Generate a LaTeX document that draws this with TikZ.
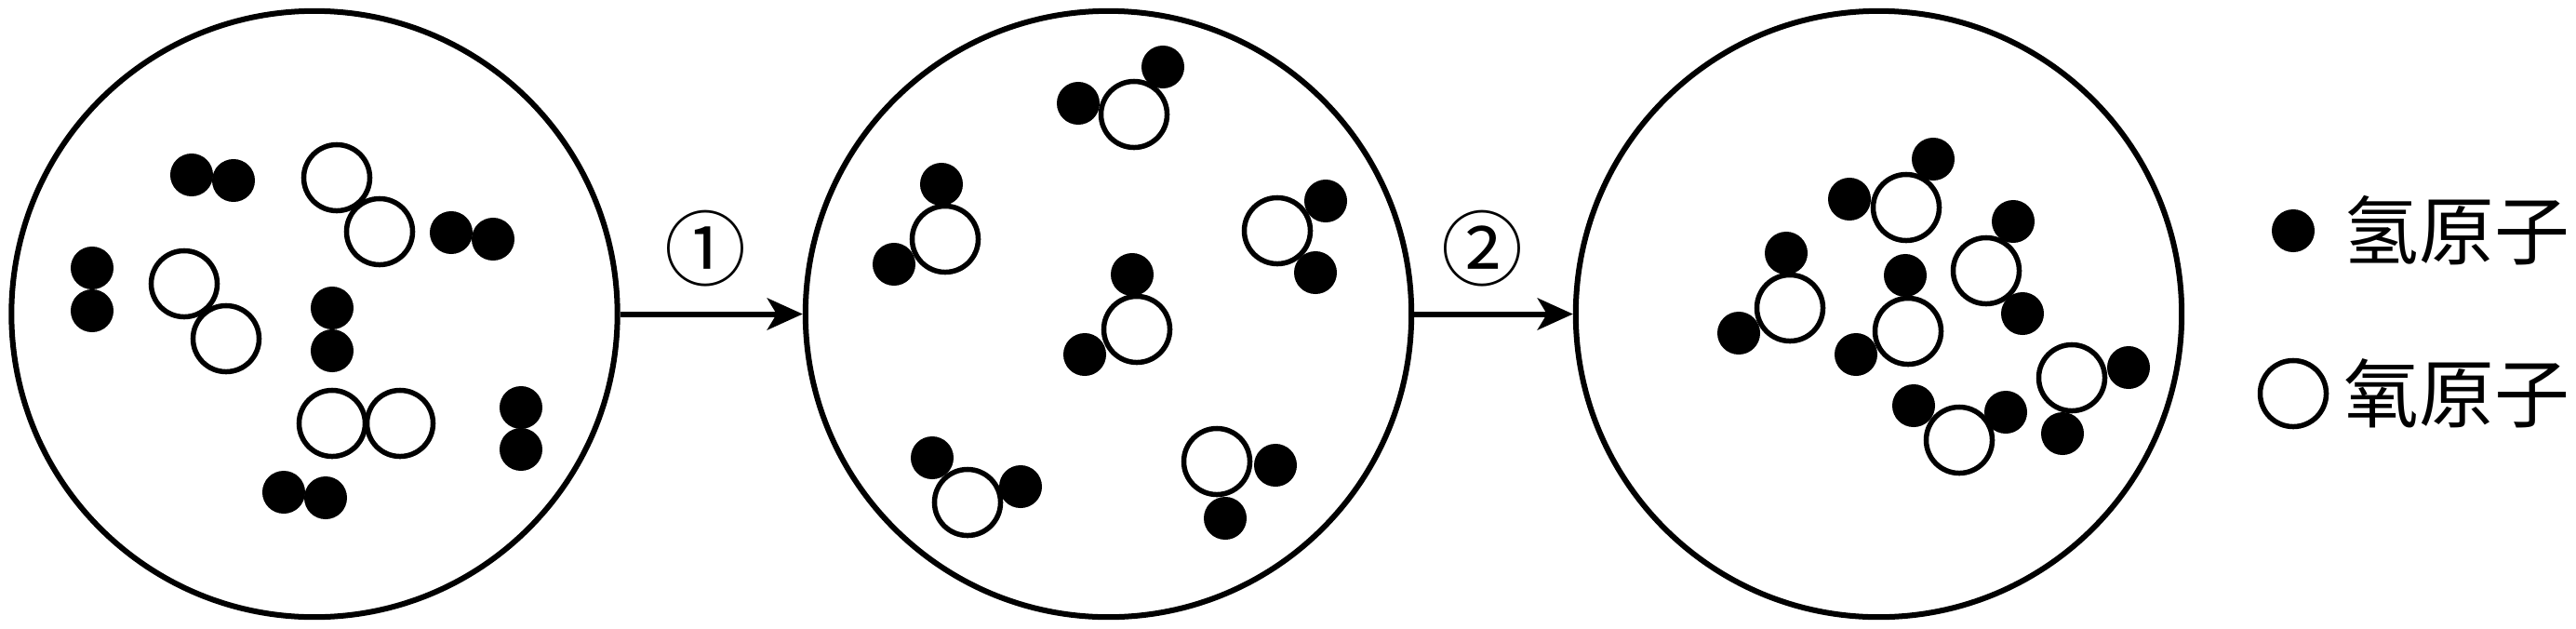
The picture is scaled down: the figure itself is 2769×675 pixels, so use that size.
\documentclass[tikz,border=0pt]{standalone}
\usepackage{fontspec}
\newfontfamily\cjk{Noto Sans CJK SC}
\usetikzlibrary{arrows.meta}
\tikzset{
  vessel/.style={draw,circle,line width=0.06cm,minimum size=6.51cm,inner sep=0pt},
  hatom/.style={fill=black,circle,minimum size=0.46cm,inner sep=0pt},
  oatom/.style={draw,fill=white,circle,line width=0.055cm,minimum size=0.71cm,inner sep=0pt},
  reaction/.style={line width=0.06cm,-{Stealth[length=0.38cm,width=0.34cm,inset=0.1cm]}},
  stepmark/.style={font=\cjk\fontsize{25}{25}\selectfont,inner sep=0pt},
  legendtext/.style={font=\cjk\fontsize{23}{24}\selectfont,inner sep=0pt}
}
\begin{document}
\begin{tikzpicture}[x=0.01cm,y=-0.01cm]
        \useasboundingbox (0,0) rectangle (2769,675);

        % the three vessels
        \node[vessel] (v1) at (338,337.5) {};
        \node[vessel] (v2) at (1191.5,337.5) {};
        \node[vessel] (v3) at (2019.5,337.5) {};

        % reaction arrows
        \draw[reaction] (v1) -- (v2);
        \draw[reaction] (v2) -- (v3);
        \node[stepmark] (s1) at (758,267) {①};
        \node[stepmark] (s2) at (1593,267) {②};

        % hydrogen atoms, first vessel
        \foreach \x/\y [count=\i] in {206/188,251/194,485/250,530/257,99/288,99/334,
                                      357/331,357/377,560/438,560/483,305/529,350/535}
            \node[hatom] (ha\i) at (\x,\y) {};
        % oxygen atoms, first vessel
        \foreach \x/\y [count=\i] in {362/191,408/249,198/305,243/364,357/455,430/455}
            \node[oatom] (oa\i) at (\x,\y) {};

        % second vessel
        \foreach \x/\y [count=\i] in {1159/111,1250/72,1012/198,961/284,1425/216,1414/293,
                                      1217/295,1166/381,1002/492,1097/523,1371/500,1317/557}
            \node[hatom] (hb\i) at (\x,\y) {};
        \foreach \x/\y [count=\i] in {1219/123,1016/257,1373/248,1222/354,1040/540,1308/496}
            \node[oatom] (ob\i) at (\x,\y) {};

        % third vessel
        \foreach \x/\y [count=\i] in {2078/171,1988/214,1920/272,1869/358,2164/238,2174/337,
                                      2048/296,1995/381,2288/395,2217/466,2057/436,2156/443}
            \node[hatom] (hc\i) at (\x,\y) {};
        \foreach \x/\y [count=\i] in {2049/223,1924/331,2135/291,2051/356,2227/406,2106/473}
            \node[oatom] (oc\i) at (\x,\y) {};

        % legend
        \node[hatom] (lh) at (2465,248) {};
        \node[oatom] (lo) at (2465,423) {};
        \node[legendtext] (th) at (2641,248) {氢原子};
        \node[legendtext] (to) at (2641,423) {氧原子};
\end{tikzpicture}
\end{document}
